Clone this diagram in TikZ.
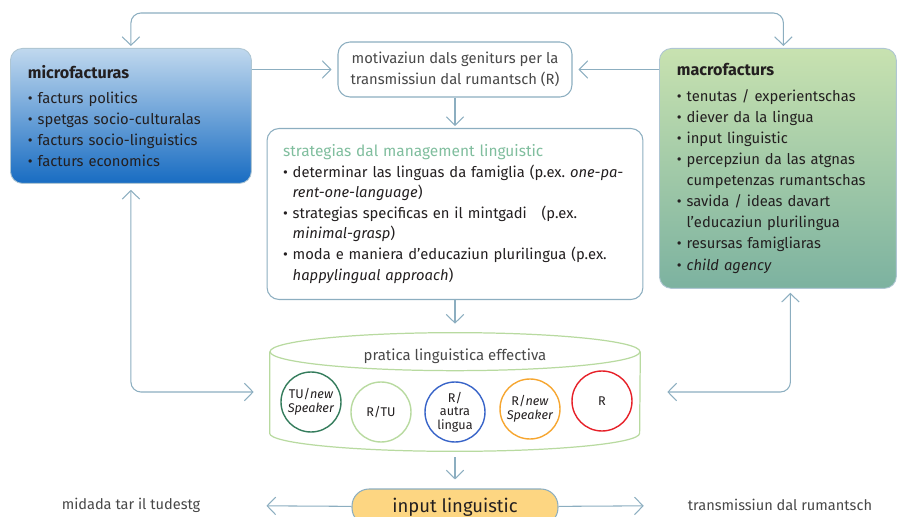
\documentclass[tikz,border=0pt]{standalone}
\usepackage{fontspec}
\setmainfont{Fira Sans}
\usetikzlibrary{shapes,positioning,arrows,fit,calc}
\usetikzlibrary{arrows.meta}
\frenchspacing

\definecolor{linkblue}{RGB}{140,174,192}
\definecolor{microtop}{RGB}{192,216,238}
\definecolor{microbot}{RGB}{24,108,194}
\definecolor{macrotop}{RGB}{200,226,176}
\definecolor{macrobot}{RGB}{124,178,160}
\definecolor{mintgreen}{RGB}{128,190,158}
\definecolor{txtgray}{RGB}{72,72,72}
\definecolor{txtdark}{RGB}{35,31,32}
\definecolor{pillfill}{RGB}{253,214,130}
\definecolor{ringdark}{RGB}{52,124,92}
\definecolor{ringlight}{RGB}{184,218,160}
\definecolor{ringblue}{RGB}{56,100,200}
\definecolor{ringorange}{RGB}{246,166,48}
\definecolor{ringred}{RGB}{230,32,40}

\newcommand{\bulletitem}{\textbullet\ }
\newcommand{\bulletgap}{\phantom{\textbullet\ }}
\newcommand{\boxhead}[1]{{\fontsize{9.2}{12}\selectfont\bfseries #1}}

\begin{document}
\begin{tikzpicture}[
    x=0.02cm, y=-0.02cm,
    >={Straight Barb[length=1.7mm, width=3.5mm]},
    conn/.style={
        draw=linkblue, line width=0.6pt, rounded corners=0.2cm
      },
    factorbox/.style={
        rectangle, rounded corners=0.24cm, draw=linkblue!70, line width=0.5pt,
        anchor=north west, align=left, text=txtdark, inner xsep=0.35cm,
        font=\fontsize{8.4}{12}\selectfont
      },
    whitebox/.style={
        rectangle, rounded corners=0.24cm, draw=linkblue, fill=white,
        line width=0.6pt, text=txtdark, font=\fontsize{8.4}{12}\selectfont
      },
    cylline/.style={
        draw=ringlight, line width=0.7pt
      },
    ring/.style={
        circle, line width=0.8pt, minimum size=1.2cm, inner sep=0pt,
        align=center, text=txtdark, font=\fontsize{7.2}{7.8}\selectfont
      },
    plainlbl/.style={
        text=txtgray, font=\fontsize{8.3}{12}\selectfont
      },
  ]
  \clip (0,0) rectangle (897,517);

  \node[factorbox, top color=microtop, bottom color=microbot,
    text width=4.12cm, minimum height=2.7cm] (micro) at (10,48) {%
    \boxhead{microfacturas}\\[2.5pt]
    \bulletitem facturs politics\\
    \bulletitem spetgas socio-culturalas\\
    \bulletitem facturs socio-linguistics\\
    \bulletitem facturs economics};
  \node[factorbox, top color=macrotop, bottom color=macrobot,
    text width=4.04cm, minimum height=4.8cm] (macro) at (659,48) {%
    \boxhead{macrofacturs}\\[2.5pt]
    \bulletitem tenutas / experientschas\\
    \bulletitem diever da la lingua\\
    \bulletitem input linguistic\\
    \bulletitem percepziun da las atgnas\\
    \bulletgap cumpetenzas rumantschas\\
    \bulletitem savida / ideas davart\\
    \bulletgap l’educaziun plurilingua\\
    \bulletitem resursas famigliaras\\
    \bulletitem \textit{child agency}};

  \node[whitebox, align=center, text=txtgray, minimum width=4.68cm,
    minimum height=1.1cm] (motiv) at (455,69.5) {%
    motivaziun dals geniturs per la\\transmissiun dal rumantsch (R)};
  \node[whitebox, align=left, text width=6.88cm, inner xsep=0.32cm,
    font=\fontsize{8.4}{11.7}\selectfont,
    minimum height=3.42cm] (strat) at (455,214) {%
    {\fontsize{8.8}{11.7}\selectfont\color{mintgreen}strategias dal management linguistic}\\
    \bulletitem determinar las linguas da famiglia (p.ex. \textit{one-pa-}\\
    \bulletgap\textit{rent-one-language})\\
    \bulletitem strategias specificas en il mintgadi\quad(p.ex.\\
    \bulletgap\textit{minimal-grasp})\\
    \bulletitem moda e maniera d’educaziun plurilingua (p.ex.\\
    \bulletgap\textit{happylingual approach})};

  % cylinder with the five language practices
  \node[rectangle, minimum width=7.4cm, minimum height=2.36cm] (pratica) at (455,392) {};
  \draw[cylline] (pratica.north) ++(0,19) ellipse [x radius=3.7cm, y radius=0.38cm];
  \draw[cylline] ([yshift=-0.38cm]pratica.north west)
    -- ([yshift=0.36cm]pratica.south west)
    arc [start angle=180, end angle=360, x radius=3.7cm, y radius=0.36cm]
    -- ([yshift=-0.38cm]pratica.north east);
  \node[plainlbl, font=\fontsize{8.5}{10}\selectfont] (praticalbl) at (455,356) {pratica linguistica effectiva};

  \node[ring, draw=ringdark] (tunew) at (311,402) {TU/\textit{new}\\\textit{Speaker}};
  \node[ring, draw=ringlight] (rtu) at (381,412) {R/TU};
  \node[ring, draw=ringblue] (rautra) at (455,412) {R/\\autra\\lingua};
  \node[ring, draw=ringorange] (rnew) at (530,409) {R/\textit{new}\\\textit{Speaker}};
  \node[ring, draw=ringred] (ronly) at (602,401) {R};

  \node[rectangle, rounded corners=0.34cm, draw=linkblue, fill=pillfill,
    line width=0.6pt, minimum width=4.12cm, minimum height=0.72cm, text=txtdark,
    font=\fontsize{10.5}{12}\selectfont] (pill) at (455,507) {input linguistic};
  \node[plainlbl] (tudestg) at (131,505) {midada tar il tudestg};
  \node[plainlbl] (transm) at (780,505) {transmissiun dal rumantsch};

  \coordinate (toploop) at (455,13);
  \draw[conn, <->, shorten <=0.04cm, shorten >=0.04cm]
    (micro.north) |- (toploop) -| ([xshift=0.11cm]macro.north);
  \draw[conn, ->, shorten >=0.12cm] (micro.east |- motiv.west) -- (motiv.west);
  \draw[conn, ->, shorten >=0.12cm] (macro.west |- motiv.east) -- (motiv.east);
  \draw[conn, ->, shorten >=0.04cm] (motiv) -- (strat);
  \draw[conn, ->, shorten >=0.18cm] (strat) -- (pratica);
  \draw[conn, ->, shorten <=0.12cm, shorten >=0.18cm] (pratica) -- (pill);
  \draw[conn, <->, shorten <=0.12cm, shorten >=0.32cm] (micro.south) |- (pratica.west);
  \draw[conn, <->, shorten <=0.08cm, shorten >=0.54cm]
    ([xshift=0.25cm]macro.south) |- (pratica.east);
  \draw[conn, ->, shorten >=1.2cm] (pill) -- (tudestg);
  \draw[conn, ->, shorten >=0.76cm] (pill) -- (transm);
\end{tikzpicture}
\end{document}
